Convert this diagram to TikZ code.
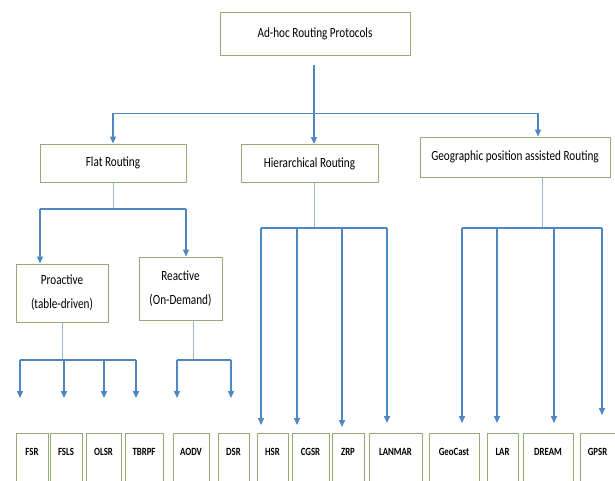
\documentclass[tikz,border=0pt]{standalone}
\usepackage{fontspec}
\setmainfont{Carlito}[FakeStretch=0.8]
\usetikzlibrary{arrows.meta,calc}
\definecolor{LineClr}{RGB}{79,135,195}
\definecolor{StemClr}{RGB}{155,182,210}
\definecolor{BoxClr}{RGB}{150,170,120}

\begin{document}
\begin{tikzpicture}[x=1pt,y=-1pt,
  box/.style={draw=BoxClr,line width=1pt,align=center,inner sep=0pt,font=\fontsize{14}{24}\selectfont},
  leaf/.style={draw=BoxClr,line width=1pt,anchor=north,inner sep=0pt,text height=22pt,text depth=30pt,font=\bfseries\fontsize{11}{12}\selectfont},
  arr/.style={draw=LineClr,line width=1.5pt,-{Triangle[width=6pt,length=7pt]}},
  bar/.style={draw=LineClr,line width=1.5pt},
  stem/.style={draw=StemClr,line width=0.8pt}]

\fill[white] (0,0) rectangle (615,480);
\useasboundingbox (0,0) rectangle (615,480);

\node[box,minimum width=190pt,minimum height=43pt] (root) at (315,34) {Ad-hoc Routing Protocols};
\node[box,minimum width=146pt,minimum height=38pt] (flat) at (113,163) {Flat Routing};
\node[box,minimum width=137pt,minimum height=38pt] (hier) at (309.5,163.5) {Hierarchical Routing};
\node[box,minimum width=190pt,minimum height=40pt] (geo) at (515,157) {Geographic position assisted Routing};
\node[box,minimum width=92pt,minimum height=58pt] (pro) at (62,293) {Proactive\\(table-driven)};
\node[box,minimum width=83pt,minimum height=63pt] (rea) at (180.5,288.5) {Reactive\\(On-Demand)};

\node[leaf,minimum width=32pt] (FSR) at (32,433) {FSR};
\node[leaf,minimum width=32pt] (FSLS) at (66,433) {FSLS};
\node[leaf,minimum width=35pt] (OLSR) at (103.5,433) {OLSR};
\node[leaf,minimum width=38pt] (TBRPF) at (144,433) {TBRPF};
\node[leaf,minimum width=36pt] (AODV) at (191,433) {AODV};
\node[leaf,minimum width=31pt] (DSR) at (233.5,433) {DSR};
\node[leaf,minimum width=31pt] (HSR) at (272.5,433) {HSR};
\node[leaf,minimum width=37pt] (CGSR) at (310.5,433) {CGSR};
\node[leaf,minimum width=32pt] (ZRP) at (348,433) {ZRP};
\node[leaf,minimum width=53pt] (LANMAR) at (395.5,433) {LANMAR};
\node[leaf,minimum width=50pt] (GeoCast) at (454,433) {GeoCast};
\node[leaf,minimum width=31pt] (LAR) at (502.5,433) {LAR};
\node[leaf,minimum width=50pt] (DREAM) at (548,433) {DREAM};
\node[leaf,minimum width=35pt] (GPSR) at (597.5,433) {GPSR};

% top level
\coordinate (top) at (314,65);
\coordinate (fork) at (314,113);
\coordinate (gtop) at (538,113);
\draw[arr] (top) -- (top |- hier.north);
\draw[LineClr,line width=1pt] (flat.north |- fork) -- (gtop);
\draw[arr] (flat.north |- fork) -- (flat.north);
\draw[arr] (gtop) -- (gtop |- geo.north);

% flat routing
\coordinate (fl) at (40,209);
\coordinate (fr) at (186,209);
\draw[stem] (flat.south) -- (flat.south |- fl);
\draw[bar] (fl) -- (fr);
\draw[arr] (fl) -- (fl |- pro.north);
\draw[arr] (fr) -- (fr |- rea.north);

% proactive
\coordinate (pbar) at (62,360);
\coordinate (tFSR) at (20,398);
\coordinate (tFSLS) at (64,398);
\coordinate (tOLSR) at (104,398);
\coordinate (tTBRPF) at (136,398);
\draw[stem] (pbar |- pro.south) -- (pbar);
\draw[bar] (tFSR |- pbar) -- (tTBRPF |- pbar);
\draw[arr] (tFSR |- pbar) -- (tFSR);
\draw[arr] (tFSLS |- pbar) -- (tFSLS);
\draw[arr] (tOLSR |- pbar) -- (tOLSR);
\draw[arr] (tTBRPF |- pbar) -- (tTBRPF);

% reactive
\coordinate (rbar) at (193,360);
\coordinate (tAODV) at (177,398);
\coordinate (tDSR) at (231,398);
\draw[stem] (rbar |- rea.south) -- (rbar);
\draw[bar] (tAODV |- rbar) -- (tDSR |- rbar);
\draw[arr] (tAODV |- rbar) -- (tAODV);
\draw[arr] (tDSR |- rbar) -- (tDSR);

% hierarchical
\coordinate (hbar) at (314,228);
\coordinate (tHSR) at (261,425);
\coordinate (tCGSR) at (297,425);
\coordinate (tZRP) at (342,427);
\coordinate (tLANMAR) at (387,423);
\draw[stem] (hbar |- hier.south) -- (hbar);
\draw[bar] (tHSR |- hbar) -- (tLANMAR |- hbar);
\draw[arr] (tHSR |- hbar) -- (tHSR);
\draw[arr] (tCGSR |- hbar) -- (tCGSR);
\draw[arr] (tZRP |- hbar) -- (tZRP);
\draw[arr] (tLANMAR |- hbar) -- (tLANMAR);

% geographic
\coordinate (gbar) at (542,228);
\coordinate (tGeoCast) at (462,423);
\coordinate (tLAR) at (497,423);
\coordinate (tDREAM) at (554,423);
\coordinate (tGPSR) at (602,415);
\draw[stem] (gbar |- geo.south) -- (gbar);
\draw[bar] (tGeoCast |- gbar) -- (tGPSR |- gbar);
\draw[arr] (tGeoCast |- gbar) -- (tGeoCast);
\draw[arr] (tLAR |- gbar) -- (tLAR);
\draw[arr] (tDREAM |- gbar) -- (tDREAM);
\draw[arr] (tGPSR |- gbar) -- (tGPSR);

\end{tikzpicture}
\end{document}
